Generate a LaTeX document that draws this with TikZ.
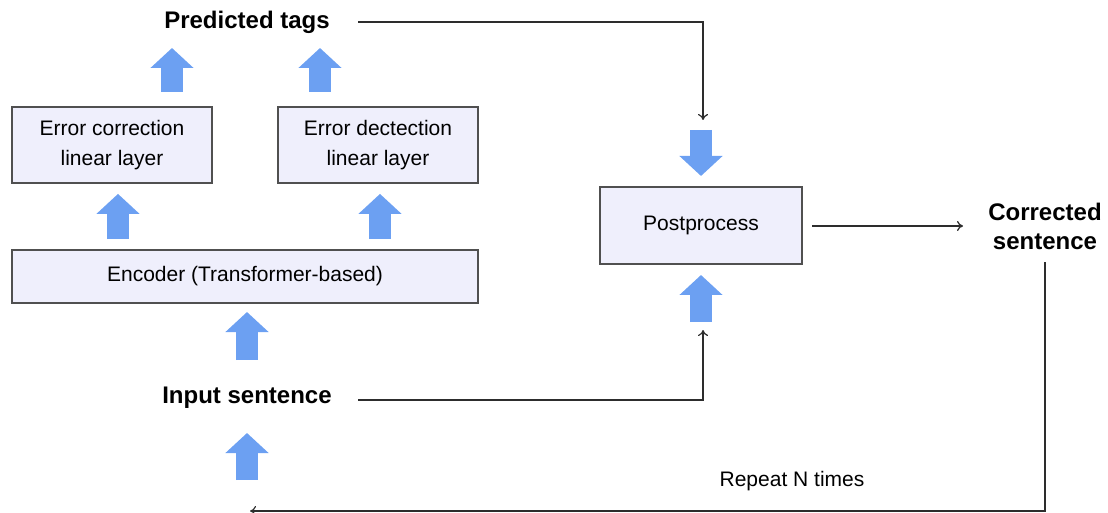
\documentclass[tikz,border=0pt]{standalone}
\usepackage{fontspec}
\setmainfont{Liberation Sans}
\usetikzlibrary{arrows.meta}

\begin{document}
\begin{tikzpicture}[x=0.5pt,y=-0.5pt,
  layerbox/.style={draw=cbord,fill=cfill,line width=0.9pt,align=center,font=\fontsize{10.5}{15}\selectfont},
  bigtext/.style={align=center,font=\fontsize{12}{14.5}\selectfont\bfseries},
  flowarrow/.style={draw=cblue,line width=11pt,-{Triangle[width=21pt,length=10pt]}},
  conn/.style={draw=cline,line width=0.6pt,-{To[length=3pt,width=5pt]}}]
\definecolor{cblue}{RGB}{108,160,242}
\definecolor{cfill}{RGB}{239,239,252}
\definecolor{cbord}{RGB}{80,80,80}
\definecolor{cline}{RGB}{45,45,45}
\useasboundingbox (0,0) rectangle (1108,513);
% boxes
\node[layerbox,minimum width=100pt,minimum height=38pt] (ec) at (112,145) {Error correction\\linear layer};
\node[layerbox,minimum width=100pt,minimum height=38pt] (ed) at (378,145) {Error dectection\\linear layer};
\node[layerbox,minimum width=233pt,minimum height=26.5pt] (enc) at (245,276.5) {Encoder (Transformer-based)};
\node[layerbox,minimum width=101pt,minimum height=38.5pt] (post) at (701,225.5) {Postprocess};
% labels
\node[bigtext] (tags) at (247,22) {Predicted tags};
\node[bigtext] (input) at (247,398) {Input sentence};
\node[bigtext] (corr) at (1045,226) {Corrected\\sentence};
\node[font=\fontsize{10.5}{12}\selectfont] (rep) at (792,481) {Repeat N times};
% blue arrows
\coordinate (loopend) at (250,511);
\draw[flowarrow] (172,92) -- (172,48);
\draw[flowarrow] (320,92) -- (320,48);
\draw[flowarrow,shorten <=5pt,shorten >=5pt] ([xshift=3pt]ec.south |- enc.north) -- ([xshift=3pt]ec.south);
\draw[flowarrow,shorten <=5pt,shorten >=5pt] ([xshift=1pt]ed.south |- enc.north) -- ([xshift=1pt]ed.south);
\draw[flowarrow] (247,360) -- (247,312);
\draw[flowarrow] (247,480) -- (247,433);
\draw[flowarrow] (701,130) -- (701,176);
\draw[flowarrow] (701,322) -- (701,275);
% thin connectors
\draw[conn] (358,22) -| (703,120);
\draw[conn] (358,400) -| (703,330);
\draw[conn] (812,226) -- (963,226);
\draw[conn] ([yshift=-3pt]corr.south) |- (loopend);
\end{tikzpicture}
\end{document}
